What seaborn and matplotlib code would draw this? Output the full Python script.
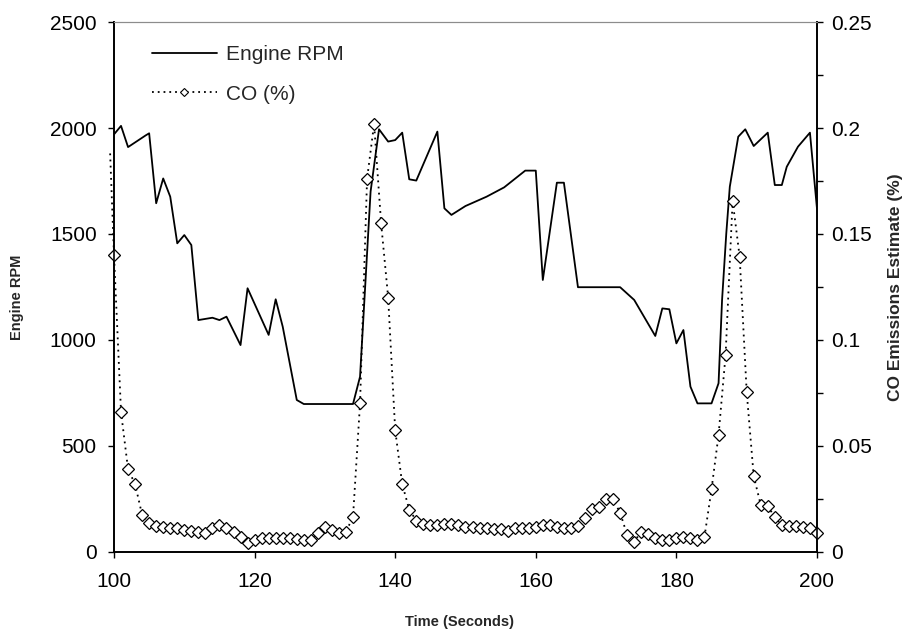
import numpy as np
import pandas as pd
import matplotlib
matplotlib.use("Agg")
import matplotlib.pyplot as plt
import seaborn as sns
from matplotlib.ticker import MultipleLocator, FuncFormatter
from matplotlib.lines import Line2D

# ---------------- data ----------------
rpm_time = [100, 101, 102, 104.5, 105, 106, 107, 108, 109, 110, 111, 112, 114, 115,
            116, 118, 119, 122, 123, 124, 126, 127, 134, 135, 136.5, 137.7, 139, 140,
            141, 142, 143, 146, 147, 148, 150, 153, 155.5, 158.5, 160, 161, 163, 164,
            166, 172, 174, 177, 178, 179, 180, 181, 182, 183, 185, 186, 186.5, 187.1,
            187.6, 188.8, 189.8, 191, 193, 194, 195, 195.7, 197.3, 199, 200]
rpm_vals = [1970, 2010, 1910, 1965, 1975, 1645, 1762, 1676, 1456, 1495, 1448, 1094, 1105, 1094,
            1110, 976, 1244, 1024, 1192, 1063, 717, 698, 698, 827, 1700, 1994, 1936, 1943,
            1978, 1758, 1752, 1983, 1621, 1590, 1632, 1676, 1720, 1799, 1799, 1283, 1742, 1742,
            1249, 1249, 1189, 1019, 1149, 1145, 984, 1047, 780, 701, 701, 796, 1189, 1503,
            1723, 1959, 1994, 1915, 1978, 1731, 1731, 1817, 1912, 1978, 1620]

co_time = [99.45] + list(range(100, 201))
co_vals = [0.188,
           0.140, 0.066, 0.039, 0.032, 0.0175, 0.0135, 0.0123, 0.0119, 0.0115, 0.0112,
           0.0104, 0.0101, 0.0096, 0.0088, 0.0112, 0.0127, 0.0112, 0.0096, 0.0072, 0.0041,
           0.0057, 0.0065, 0.0065, 0.0065, 0.0065, 0.0065, 0.0063, 0.0057, 0.0055, 0.0088,
           0.0116, 0.0104, 0.0090, 0.0096, 0.0165, 0.0701, 0.176, 0.202, 0.155, 0.120,
           0.0575, 0.032, 0.020, 0.0148, 0.0130, 0.0128, 0.0128, 0.0132, 0.0132, 0.0127,
           0.0119, 0.0116, 0.0112, 0.0112, 0.0107, 0.0107, 0.0101, 0.0112, 0.0112, 0.0115,
           0.0119, 0.0127, 0.0127, 0.0119, 0.0115, 0.0115, 0.0123, 0.016, 0.0204, 0.0214,
           0.0248, 0.0248, 0.0185, 0.008, 0.0049, 0.0096, 0.0085, 0.0065, 0.0057, 0.0057,
           0.0065, 0.0072, 0.0065, 0.0055, 0.0072, 0.0296, 0.0552, 0.0929, 0.1657, 0.1393,
           0.0756, 0.0358, 0.0222, 0.0217, 0.0164, 0.0127, 0.0122, 0.0122, 0.0119, 0.0112,
           0.0088]

x_ticks = [100, 120, 140, 160, 180, 200]
rpm_ticks = [0, 500, 1000, 1500, 2000, 2500]
co_ticks = [0, 0.05, 0.1, 0.15, 0.2, 0.25]

series_labels = ["Engine RPM", "CO (%)"]
x_label = "Time (Seconds)"
y_label_left = "Engine RPM"
y_label_right = "CO Emissions Estimate (%)"

# ---------------- style ----------------
sns.set_theme(style="ticks")
plt.rcParams["font.family"] = ["Liberation Sans", "DejaVu Sans"]

fig = plt.figure(figsize=(9.12, 6.36), dpi=100)
ax = fig.add_axes([0.125, 0.1321, 0.7708, 0.8333])
ax2 = ax.twinx()

rpm_df = pd.DataFrame({"t": rpm_time, "rpm": rpm_vals})
co_df = pd.DataFrame({"t": co_time, "co": co_vals})

sns.lineplot(data=rpm_df, x="t", y="rpm", ax=ax, color="black", linewidth=1.3,
             sort=False, estimator=None)
sns.lineplot(data=co_df, x="t", y="co", ax=ax2, color="black", linewidth=1.3,
             linestyle=(0, (1, 2.4)), marker="D", markersize=5.8,
             markerfacecolor="white", markeredgecolor="black", markeredgewidth=0.9,
             markevery=list(range(1, len(co_time))), clip_on=False,
             sort=False, estimator=None)

ax.set_xlim(100, 200)
ax.set_ylim(0, 2500)
ax2.set_ylim(0, 0.25)
ax.set_xticks(x_ticks)
ax.set_yticks(rpm_ticks)
ax2.set_yticks(co_ticks)
ax2.yaxis.set_minor_locator(MultipleLocator(0.025))
ax2.yaxis.set_major_formatter(FuncFormatter(lambda v, p: "0" if v == 0 else f"{v:g}"))

tick_fs = 15
for a in (ax, ax2):
    a.tick_params(axis="both", which="both", direction="out", length=4.5, width=1,
                  colors="black", labelsize=tick_fs)
ax.tick_params(axis="x", pad=10)
ax.tick_params(axis="y", pad=8, right=False)
ax2.tick_params(axis="y", which="both", pad=6, left=False, right=True)
ax2.tick_params(axis="y", which="minor", length=4.5)

for a in (ax, ax2):
    for s in ("left", "bottom", "right"):
        a.spines[s].set_color("black")
        a.spines[s].set_linewidth(1.2)
        a.spines[s].set_visible(True)
    a.spines["top"].set_visible(True)
    a.spines["top"].set_color("#8c8c8c")
    a.spines["top"].set_linewidth(0.8)

ax.set_xlabel(x_label, fontsize=10.5, fontweight="bold")
ax.set_ylabel(y_label_left, fontsize=10.5, fontweight="bold")
ax2.set_ylabel(y_label_right, fontsize=12.5, fontweight="bold")
ax.xaxis.set_label_coords(0.492, -0.118)
ax.yaxis.set_label_coords(-0.128, 0.48)
ax2.yaxis.set_label_coords(1.101, 0.5)

handles = [
    Line2D([], [], color="black", linewidth=1.3),
    Line2D([], [], color="black", linewidth=1.3, linestyle=(0, (1, 2.2)), marker="D",
           markersize=4.5, markerfacecolor="white", markeredgecolor="black",
           markeredgewidth=0.8),
]
leg = ax.legend(handles, series_labels, loc="upper left", bbox_to_anchor=(0.054, 0.957),
                frameon=False, fontsize=15, handlelength=3.1, handletextpad=0.45,
                labelspacing=1.0, borderpad=0, borderaxespad=0)

fig.savefig("out.png", dpi=100, facecolor="white")
